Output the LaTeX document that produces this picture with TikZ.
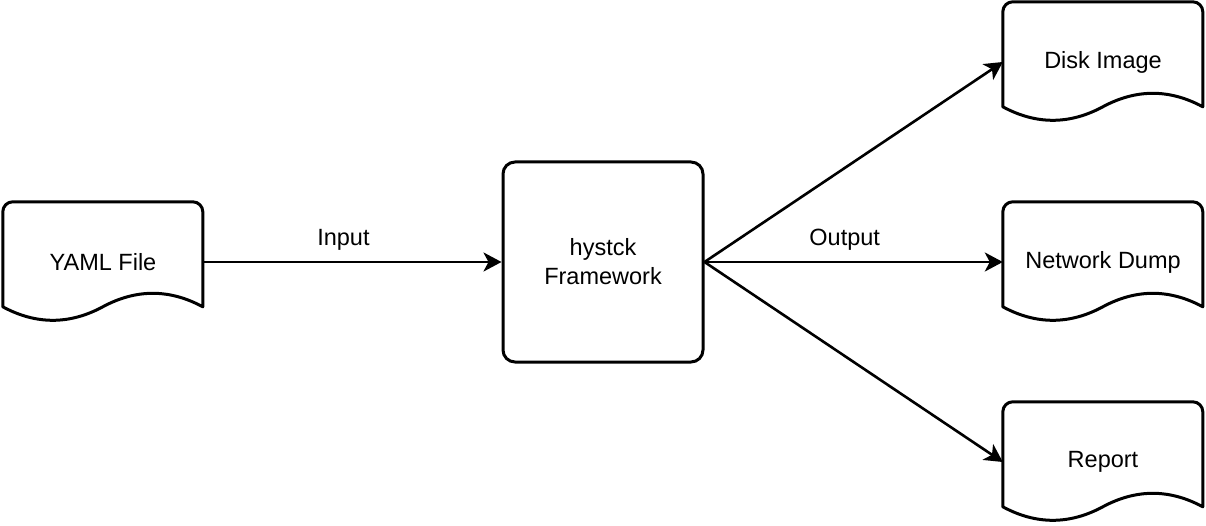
\documentclass[tikz,border=0pt]{standalone}
\usepackage{fontspec}
\setmainfont{Liberation Sans}
\usetikzlibrary{arrows.meta}
\tikzset{
  docbox/.style={rectangle, minimum width=200pt, minimum height=120pt, inner sep=0pt, font=\fontsize{23.5}{29}\selectfont},
  docline/.style={line width=3pt, line join=round},
  fwbox/.style={rectangle, draw, line width=3pt, rounded corners=12pt, minimum width=200pt, minimum height=200pt, inner sep=0pt, align=center, font=\fontsize{23.5}{29}\selectfont},
  conn/.style={line width=2.6pt, -{Stealth[length=18pt,width=19pt,inset=5pt]}},
  lbl/.style={font=\fontsize{23.5}{29}\selectfont, inner sep=0pt}
}
\newcommand\docshape[1]{%
  \draw[docline,shift={(#1.north west)}] (0,105) -- (0,10) arc[start angle=180,end angle=270,radius=10] -- (190,0) arc[start angle=270,end angle=360,radius=10] -- (200,105) .. controls (166.67,87) and (133.33,87) .. (100,105) .. controls (66.67,123) and (33.33,123) .. (0,105) -- cycle;}
\begin{document}
\begin{tikzpicture}[x=1pt,y=-1pt]
\useasboundingbox (0,0) rectangle (1206,526);
\node[docbox] (yaml) at (103,262) {YAML File};
\node[fwbox] (fw) at (603,262) {hystck\\Framework};
\node[docbox] (disk) at (1103,62) {Disk Image};
\node[docbox] (net) at (1103,262) {Network Dump};
\node[docbox] (rep) at (1103,462) {Report};
\docshape{yaml}
\docshape{disk}
\docshape{net}
\docshape{rep}
\draw[conn] (yaml.east) -- node[lbl, pos=0.47, yshift=22pt] (inlbl) {Input} (fw.west);
\draw[conn] (fw.east) -- node[lbl, pos=0.47, yshift=22pt] (outlbl) {Output} (net.west);
\draw[conn] (fw.east) -- (disk.west);
\draw[conn] (fw.east) -- (rep.west);
\end{tikzpicture}
\end{document}
